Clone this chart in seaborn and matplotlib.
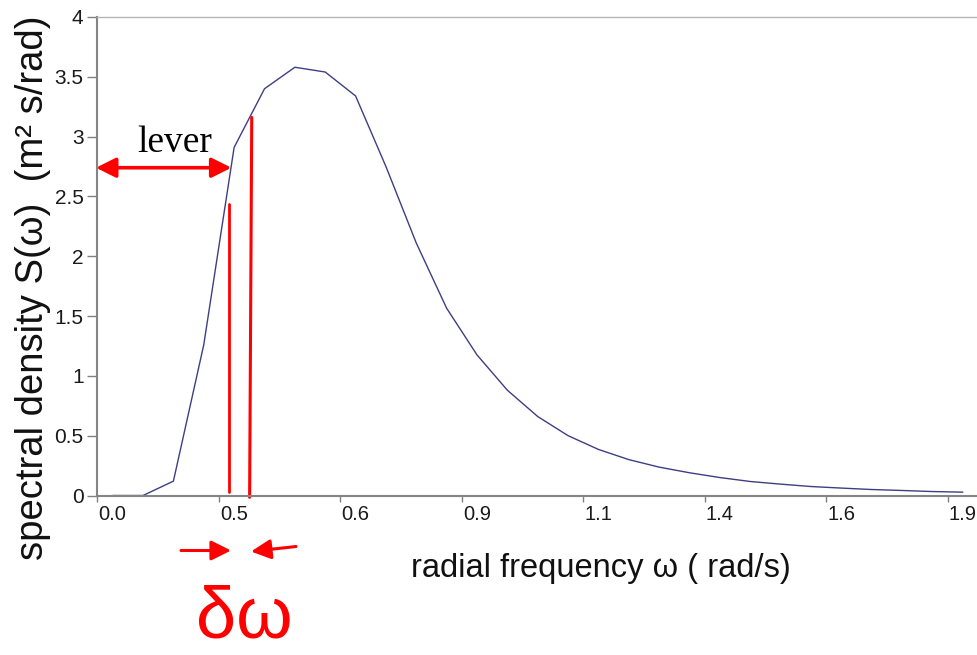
import numpy as np
import pandas as pd
import matplotlib
matplotlib.use("Agg")
import matplotlib.pyplot as plt
from matplotlib.patches import ArrowStyle, FancyArrowPatch
import seaborn as sns

# ---------------- data ----------------
spectral_density = [0.0, 0.0, 0.12, 1.26, 2.91, 3.40, 3.58, 3.54, 3.34, 2.75,
                    2.11, 1.565, 1.175, 0.88, 0.66, 0.50, 0.385, 0.30, 0.237,
                    0.19, 0.15, 0.117, 0.095, 0.075, 0.062, 0.05, 0.042, 0.033,
                    0.028]
sample_index = list(range(len(spectral_density)))
x_tick_labels = ["0.0", "0.5", "0.6", "0.9", "1.1", "1.4", "1.6", "1.9"]
label_step = 4
y_ticks = [0, 0.5, 1, 1.5, 2, 2.5, 3, 3.5, 4]

# ---------------- style ----------------
sns.set_theme(style="white")
plt.rcParams['font.family'] = ['Liberation Sans', 'DejaVu Sans']

W, H = 978, 655
fig = plt.figure(figsize=(W / 100, H / 100), dpi=100)
fig.patch.set_facecolor("white")

def fx(px):
    return px / W

def fy(py):
    return 1 - py / H

ax_left, ax_right, ax_top, ax_bottom = 97.5, 978.0, 17.0, 495.5
ax = fig.add_axes([fx(ax_left), fy(ax_bottom), fx(ax_right - ax_left), (ax_bottom - ax_top) / H])
ax.set_facecolor("white")

df = pd.DataFrame({"idx": sample_index, "S": spectral_density})
sns.lineplot(data=df, x="idx", y="S", ax=ax, color="#3e3e82", linewidth=1.0)

ax.set_xlim(-0.5, len(spectral_density) - 0.5)
ax.set_ylim(0, 4)

# y axis
ax.set_yticks(y_ticks)
ax.set_yticklabels([f"{v:g}" for v in y_ticks])
ax.tick_params(axis="y", which="major", direction="out", length=7, width=1,
               color="#808080", pad=3, labelsize=15, labelcolor="#1a1a1a", left=True)

# x axis: labels at category centers, tick marks at category boundaries
major_pos = sample_index[::label_step]
ax.set_xticks(major_pos)
ax.set_xticklabels(x_tick_labels)
ax.set_xticks([p - 0.5 for p in major_pos], minor=True)
ax.tick_params(axis="x", which="major", length=0, pad=7, labelsize=14.5, labelcolor="#1a1a1a")
ax.tick_params(axis="x", which="minor", direction="out", length=4, width=1,
               color="#808080", bottom=True)

ax.set_xlabel("")
ax.set_ylabel("")
for side in ["left", "bottom"]:
    ax.spines[side].set_color("#858585")
    ax.spines[side].set_linewidth(1.5)
ax.spines["top"].set_color("#b5b5b5")
ax.spines["top"].set_linewidth(1.0)
ax.spines["right"].set_visible(False)
ax.grid(False)

# ---------------- axis titles ----------------
fig.text(fx(33), fy(288), "spectral density S(ω)  (m² s/rad)", rotation=90,
         ha="center", va="center", fontsize=27.5, color="#111111")
fig.text(fx(601), fy(568), "radial frequency ω ( rad/s)",
         ha="center", va="center", fontsize=23.5, color="#111111")

# ---------------- red annotations ----------------
arrow_style = ArrowStyle("<|-|>", head_length=0.8, head_width=0.4)
ax.annotate("", xy=(3.91, 2.74), xytext=(-0.55, 2.74),
            arrowprops=dict(arrowstyle=arrow_style, color="red", lw=2.6,
                            mutation_scale=15, shrinkA=0, shrinkB=0),
            annotation_clip=False)
fig.text(fx(175), fy(152), "lever", ha="center", va="baseline",
         fontsize=27, family="Liberation Serif", color="black")

ax.plot([3.82, 3.82], [0.03, 2.44], color="red", lw=2.0, clip_on=False)
ax.plot([4.51, 4.58], [-0.015, 3.16], color="red", lw=2.2, clip_on=False)

single = ArrowStyle("-|>", head_length=0.8, head_width=0.4)
fig.add_artist(FancyArrowPatch(
    (fx(181), fy(550.5)), (fx(231), fy(550.5)), transform=fig.transFigure,
    arrowstyle=single, color="red", lw=2.2, mutation_scale=15,
    shrinkA=0, shrinkB=0))
fig.add_artist(FancyArrowPatch(
    (fx(296), fy(546.5)), (fx(251), fy(551.5)), transform=fig.transFigure,
    arrowstyle=single, color="red", lw=2.2, mutation_scale=15,
    shrinkA=0, shrinkB=0))

fig.text(fx(244), fy(619), "δω", ha="center", va="center",
         fontsize=52, color="red")

fig.savefig("out.png", dpi=100, facecolor="white")
